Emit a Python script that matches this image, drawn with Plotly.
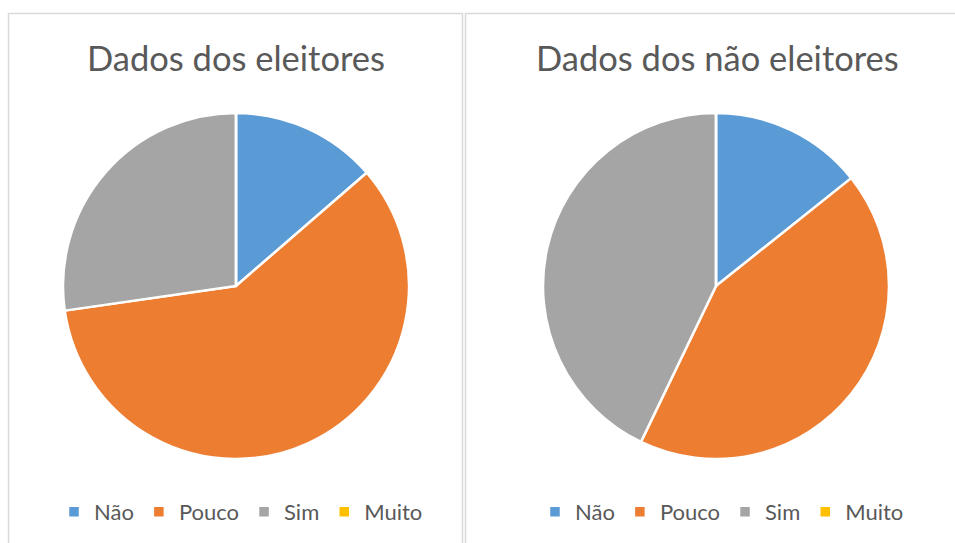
import plotly.graph_objects as go

# data
labels = ['Não', 'Pouco', 'Sim', 'Muito']
eleitores = [3, 13, 6, 0]
nao_eleitores = [1, 3, 3, 0]
colors = ['#5B9BD5', '#ED7D31', '#A5A5A5', '#FFC000']
titles = ['Dados dos eleitores', 'Dados dos não eleitores']

W, H = 955, 543
FONT = 'Lato'
TXT = '#595959'


def px_x(v):
    return v / W


def px_y(v):
    return 1 - v / H


fig = go.Figure()

# left pie
fig.add_trace(go.Pie(
    labels=labels, values=eleitores,
    sort=False, direction='clockwise', rotation=0,
    marker=dict(colors=colors, line=dict(color='white', width=2.5)),
    textinfo='none', hoverinfo='label+value+percent',
    domain=dict(x=[px_x(63), px_x(409)], y=[px_y(459), px_y(113)]),
    legend='legend',
))

# right pie - pies share legend items by label, so tag the labels
# with a zero-width space to get a second, separate legend
fig.add_trace(go.Pie(
    labels=[l + '\u200b' for l in labels], values=nao_eleitores,
    sort=False, direction='clockwise', rotation=0,
    marker=dict(colors=colors, line=dict(color='white', width=2.5)),
    textinfo='none', hoverinfo='label+value+percent',
    domain=dict(x=[px_x(543), px_x(889)], y=[px_y(459), px_y(113)]),
    legend='legend2',
))

# panel borders like the spreadsheet chart frames
fig.add_shape(type='rect', xref='paper', yref='paper',
              x0=px_x(8.5), x1=px_x(462.5), y0=px_y(560), y1=px_y(13.5),
              line=dict(color='#D9D9D9', width=1.5), fillcolor='rgba(0,0,0,0)')
fig.add_shape(type='rect', xref='paper', yref='paper',
              x0=px_x(465.5), x1=px_x(980), y0=px_y(560), y1=px_y(13.5),
              line=dict(color='#D9D9D9', width=1.5), fillcolor='rgba(0,0,0,0)')

# titles
for cx, t in zip([236, 717], titles):
    fig.add_annotation(x=px_x(cx), y=px_y(58), xref='paper', yref='paper',
                       text=t, showarrow=False, xanchor='center', yanchor='middle',
                       font=dict(family=FONT, size=34.5, color=TXT))

leg = dict(orientation='h', xanchor='center', yanchor='middle',
           font=dict(family=FONT, size=22, color=TXT),
           bgcolor='rgba(0,0,0,0)', itemclick=False, itemdoubleclick=False)

fig.update_layout(
    width=W, height=H,
    margin=dict(l=0, r=0, t=0, b=0),
    paper_bgcolor='white',
    showlegend=True,
    legend=dict(leg, x=px_x(241), y=px_y(512)),
    legend2=dict(leg, x=px_x(722), y=px_y(512)),
)

fig.write_html("out.html", config={'displayModeBar': False},
               post_script="document.body.style.margin='0';")
